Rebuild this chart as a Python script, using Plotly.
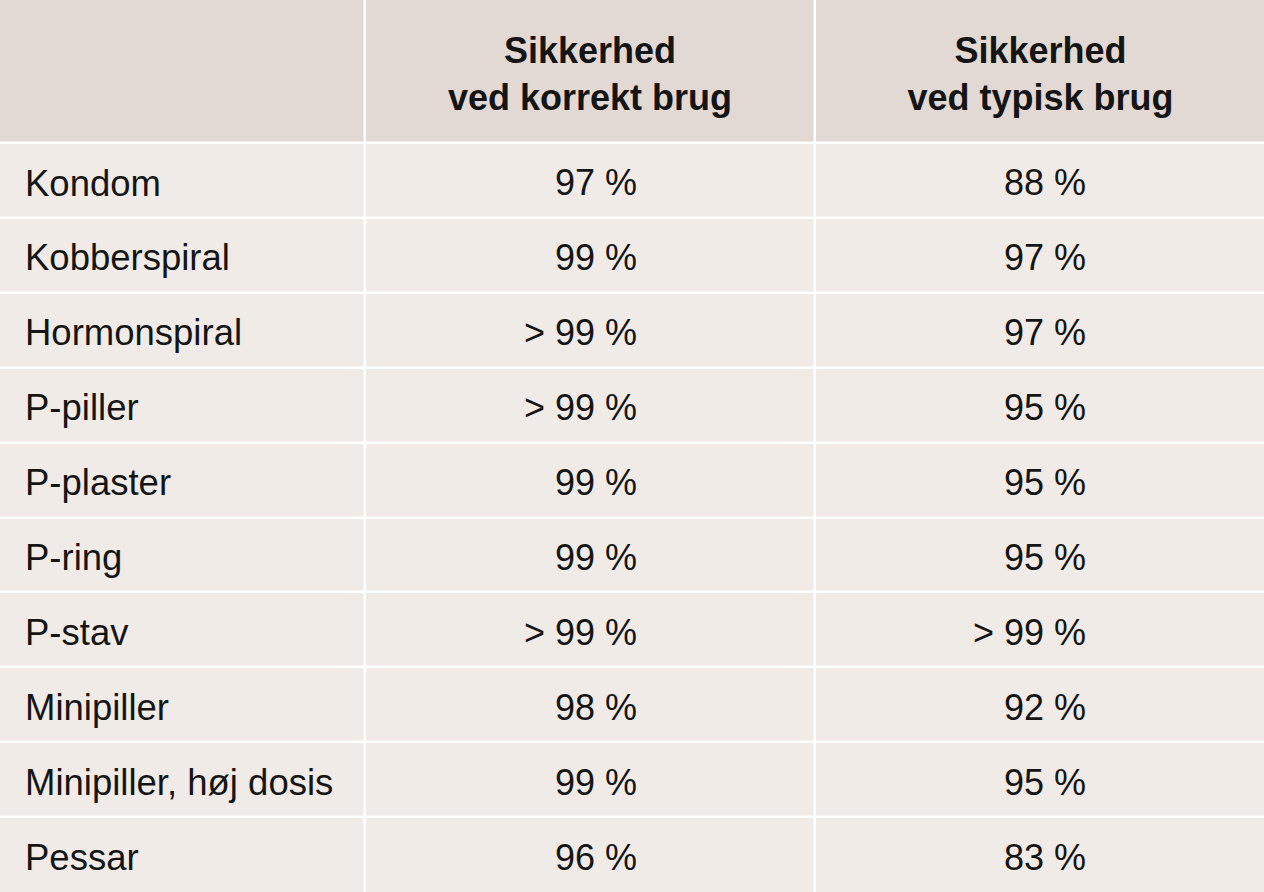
import plotly.graph_objects as go

# Table content
header = ["", "<b>Sikkerhed</b><br><b>ved korrekt brug</b>", "<b>Sikkerhed</b><br><b>ved typisk brug</b>"]
methods = ["Kondom", "Kobberspiral", "Hormonspiral", "P-piller", "P-plaster",
           "P-ring", "P-stav", "Minipiller", "Minipiller, høj dosis", "Pessar"]
correct_use = ["97 %", "99 %", "> 99 %", "> 99 %", "99 %",
               "99 %", "> 99 %", "98 %", "99 %", "96 %"]
typical_use = ["88 %", "97 %", "97 %", "95 %", "95 %",
               "95 %", "> 99 %", "92 %", "95 %", "83 %"]

# Layout (pixel-like units, y grows downward)
W, H = 1264, 892
bleed = 2               # push the outer cell edges past the window so no half-gap shows
col_edges = [-bleed, 365, 815, W + bleed]
header_h = 143
row_h = (H - header_h) / len(methods)
row_edges = [-bleed, header_h] + [header_h + row_h * (i + 1) for i in range(len(methods))]
row_edges[-1] += bleed
row_mid = [(max(row_edges[i], 0) + min(row_edges[i + 1], H)) / 2
           for i in range(len(row_edges) - 1)]
text_dy = 6             # optical shift: centre on cap height rather than full line box

HEADER_BG = "#e3d9d4"
BODY_BG = "#f0ebe7"
TEXT = "#151515"
FONT = "Liberation Sans, Arial, sans-serif"

label_x = 25            # left padding of the first column
value_pad = 178         # right padding of the numeric columns

fig = go.Figure()

# cell backgrounds: 0 = header row, 1 = body rows; gaps give the white grid
z = [[0, 0, 0]] + [[1, 1, 1] for _ in methods]
fig.add_trace(go.Heatmap(
    x=col_edges, y=row_edges, z=z,
    colorscale=[[0, HEADER_BG], [1, BODY_BG]],
    zmin=0, zmax=1, showscale=False,
    xgap=2.5, ygap=2.5, hoverinfo="skip",
))

# header text
fig.add_trace(go.Scatter(
    x=[(col_edges[c] + col_edges[c + 1]) / 2 for c in range(1, 3)],
    y=[row_mid[0] + text_dy] * 2,
    text=header[1:], mode="text", textposition="middle center",
    textfont=dict(family=FONT, size=36, color=TEXT),
    hoverinfo="skip", showlegend=False,
))

# method names
fig.add_trace(go.Scatter(
    x=[label_x] * len(methods), y=[m + text_dy for m in row_mid[1:]],
    text=methods, mode="text", textposition="middle right",
    textfont=dict(family=FONT, size=36.5, color=TEXT),
    hoverinfo="skip", showlegend=False,
))

# numeric columns
for c, vals in ((2, correct_use), (3, typical_use)):
    fig.add_trace(go.Scatter(
        x=[min(col_edges[c], W) - value_pad] * len(vals),
        y=[m + text_dy for m in row_mid[1:]],
        text=vals, mode="text", textposition="middle left",
        textfont=dict(family=FONT, size=36, color=TEXT),
        hoverinfo="skip", showlegend=False,
    ))

fig.update_xaxes(range=[0, W], visible=False, fixedrange=True)
fig.update_yaxes(range=[H, 0], visible=False, fixedrange=True)
fig.update_layout(
    width=W, height=H,
    margin=dict(l=0, r=0, t=0, b=0),
    paper_bgcolor="white", plot_bgcolor="white",
    showlegend=False,
)

# drop the browser's default body margin so the table fills the window
fig.write_html("out.html", config={"displayModeBar": False},
               post_script="document.body.style.margin='0';")
